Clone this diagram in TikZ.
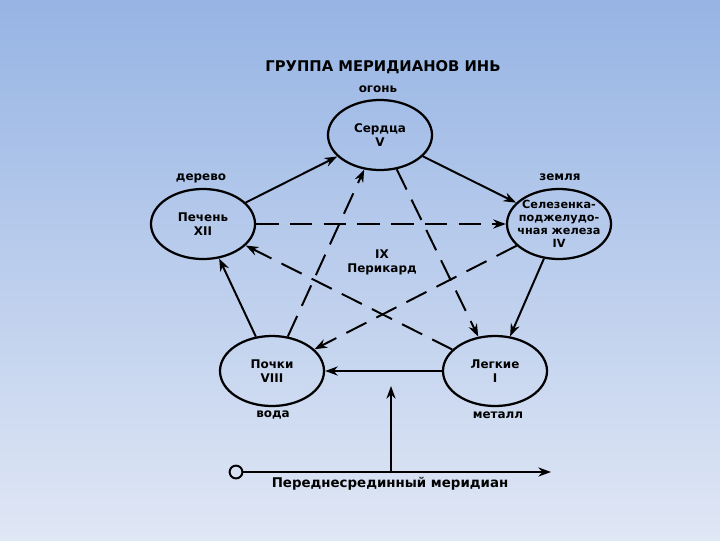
\documentclass[tikz,border=0pt]{standalone}
\usepackage{fontspec}
\setmainfont{DejaVu Sans}
\usetikzlibrary{arrows.meta,shapes.geometric}
\definecolor{bgtop}{RGB}{150,180,228}
\definecolor{bgbottom}{RGB}{224,231,245}

\begin{document}
\begin{tikzpicture}[
    x=0.025cm, y=-0.025cm,
    font=\bfseries\fontsize{8.5}{10}\selectfont,
    >={Stealth[length=9pt,width=6.5pt]},
    organ/.style={draw, ellipse, line width=1.6pt, minimum width=2.6cm, minimum height=1.75cm, align=center, inner sep=0pt},
    elem/.style={align=center, inner sep=1pt},
    flow/.style={->, line width=1.4pt},
    cross/.style={->, line width=1.4pt, dash pattern=on 16pt off 8pt}
  ]
  \shade[top color=bgtop, bottom color=bgbottom] (0,0) rectangle (720,540);
  \useasboundingbox (0,0) rectangle (720,540);

  \node[elem, font=\bfseries\fontsize{10.5}{12}\selectfont] (title) at (383,67) {ГРУППА МЕРИДИАНОВ ИНЬ};
  \node[elem] (fire) at (378,89) {огонь};
  \node[organ] (heart) at (380,135) {Сердца\\V};
  \node[elem] (wood) at (201,178) {дерево};
  \node[organ] (liver) at (203,224) {Печень\\XII};
  \node[elem] (earth) at (560,177) {земля};
  \node[organ] (spleen) at (559,224) {};
  \node[elem, font=\bfseries\fontsize{8}{9.2}\selectfont] (spleentext) at (spleen) {Селезенка-\\поджелудо-\\чная железа\\IV};
  \node[elem] (peri) at (382,262) {IX\\Перикард};
  \node[organ] (kidney) at (272,371) {Почки\\VIII};
  \node[organ] (lung) at (495,371) {Легкие\\I};
  \node[elem] (water) at (273,415) {вода};
  \node[elem] (metal) at (498,415) {металл};

  \draw[flow] (liver) -- (heart);
  \draw[flow] (heart) -- (spleen);
  \draw[flow] (spleen) -- (lung);
  \draw[flow] (lung) -- (kidney);
  \draw[flow] (kidney) -- (liver);

  \draw[cross] (liver) -- (spleen);
  \draw[cross] (kidney) -- (heart);
  \draw[cross] (heart) -- (lung);
  \draw[cross] (spleen) -- (kidney);
  \draw[cross] (lung) -- (liver);

  % anterior median meridian
  \node[draw, circle, line width=1.4pt, minimum size=0.32cm, inner sep=0pt] (start) at (236,472) {};
  \coordinate (end) at (551,472);
  \coordinate (mid) at (391,472);
  \coordinate (midtop) at (391,386);
  \draw[flow] (start) -- (end);
  \draw[flow] (mid) -- (midtop);
  \node[elem, font=\bfseries\fontsize{9.5}{11}\selectfont] (meridian) at (390,484) {Переднесрединный меридиан};
\end{tikzpicture}
\end{document}
